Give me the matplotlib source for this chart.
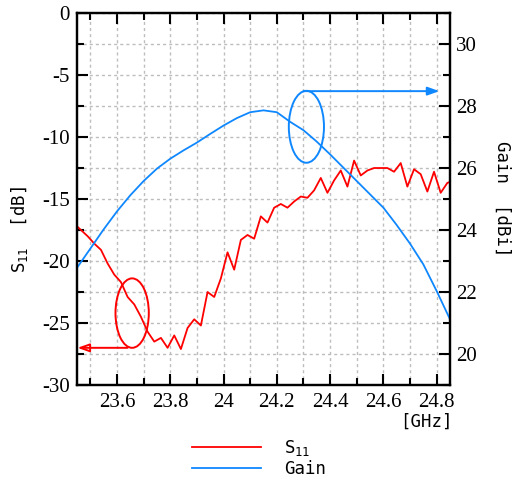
#!/usr/bin/env python3

# S11 and gain of the antenna against frequency, two y axes.

import matplotlib
matplotlib.use('Agg')
import matplotlib.pyplot as plt
from matplotlib.patches import Ellipse
from matplotlib.ticker import MultipleLocator, FormatStrFormatter
import numpy as np

# S11 measurement [GHz], [dB]
s11_freq = np.round(23.44 + 0.025 * np.arange(58), 3)
s11_db = [-17.0, -17.5, -18.0, -18.6, -19.1, -20.2, -21.1, -21.7, -22.9, -23.5,
          -24.5, -25.7, -26.5, -26.2, -27.0, -26.0, -27.1, -25.4, -24.7, -25.2,
          -22.5, -22.9, -21.4, -19.3, -20.7, -18.3, -17.9, -18.2, -16.4, -16.9,
          -15.7, -15.4, -15.7, -15.2, -14.8, -14.9, -14.3, -13.3, -14.5, -13.5,
          -12.7, -14.0, -11.9, -13.1, -12.7, -12.5, -12.5, -12.5, -12.8, -12.1,
          -14.0, -12.6, -13.0, -14.4, -12.8, -14.5, -13.7, -13.5]

# Gain [GHz], [dBi]
gain_freq = [23.45, 23.50, 23.55, 23.60, 23.65, 23.70, 23.75, 23.80, 23.85, 23.90,
             23.95, 24.00, 24.05, 24.10, 24.15, 24.20, 24.25, 24.30, 24.35, 24.40,
             24.45, 24.50, 24.55, 24.60, 24.65, 24.70, 24.75, 24.80, 24.85]
gain_dbi = [22.78, 23.40, 24.02, 24.60, 25.12, 25.58, 25.98, 26.30, 26.57, 26.82,
            27.10, 27.37, 27.61, 27.80, 27.86, 27.80, 27.49, 27.22, 26.85, 26.44,
            26.01, 25.58, 25.15, 24.72, 24.16, 23.56, 22.89, 22.03, 21.12]

RED = '#ff0000'
BLUE = '#0f87ff'
SERIF = 'Liberation Serif'
MONO = 'DejaVu Sans Mono'

plt.rcParams['mathtext.default'] = 'regular'
plt.rcParams['axes.unicode_minus'] = False
plt.rcParams['font.family'] = SERIF

fig = plt.figure(figsize=(5.15, 4.82), dpi=100)
ax = fig.add_axes([0.1495, 0.2012, 0.7243, 0.7718])
ax2 = ax.twinx()

l1, = ax.plot(s11_freq, s11_db, color=RED, lw=1.3, label='S$_{11}$')
l2, = ax2.plot(gain_freq, gain_dbi, color=BLUE, lw=1.3, label='Gain')

ax.set_xlim(23.45, 24.85)
ax.set_ylim(-30, 0)
ax2.set_ylim(19, 31)

ax.xaxis.set_major_locator(MultipleLocator(0.2))
ax.xaxis.set_minor_locator(MultipleLocator(0.1))
ax.xaxis.set_major_formatter(FormatStrFormatter('%g'))
ax.yaxis.set_major_locator(MultipleLocator(5))
ax.yaxis.set_minor_locator(MultipleLocator(2.5))
ax2.yaxis.set_major_locator(MultipleLocator(2))
ax2.yaxis.set_minor_locator(MultipleLocator(1))

ax.grid(which='both', color='#bdbdbd', linestyle=(0, (2.2, 2.2)), linewidth=1.0)
ax.set_axisbelow(True)

ax.tick_params(which='both', direction='in', top=True, right=False, width=1.5,
               labelsize=15, colors='black')
ax.tick_params(which='major', length=8)
ax.tick_params(which='minor', length=5)
ax.tick_params(axis='y', pad=5)
ax.tick_params(axis='x', pad=6)
ax2.tick_params(which='both', direction='in', width=1.5, labelsize=15, pad=4.5)
ax2.tick_params(which='major', length=8)
ax2.tick_params(which='minor', length=5)
for a in (ax, ax2):
    for sp in a.spines.values():
        sp.set_linewidth(1.6)

ax.set_ylabel('S$_{11}$  [dB]', family=MONO, fontsize=12.5, va='center')
ax.yaxis.set_label_coords(-0.153, 0.417)
ax2.set_ylabel('Gain  [dBi]', family=MONO, fontsize=12.5, rotation=270, va='center')
ax2.yaxis.set_label_coords(1.139, 0.5)
ax.set_xlabel('[GHz]', family=MONO, fontsize=12.5, ha='right', va='center')
ax.xaxis.set_label_coords(1.008, -0.0987)

# markers pointing each curve at its axis
ax.add_patch(Ellipse((23.657, -24.2), 0.125, 5.6, fill=False, ec=RED, lw=1.4))
ax.annotate('', xy=(23.452, -27.0), xytext=(23.64, -27.0),
            arrowprops=dict(arrowstyle='-|>,head_length=0.7,head_width=0.25',
                            color=RED, fc='none', lw=1.4, shrinkA=0, shrinkB=0))
ax2.add_patch(Ellipse((24.311, 27.33), 0.132, 2.32, fill=False, ec=BLUE, lw=1.4))
ax2.annotate('', xy=(24.81, 28.48), xytext=(24.30, 28.48),
             arrowprops=dict(arrowstyle='-|>,head_length=0.7,head_width=0.25',
                             color=BLUE, lw=1.4, shrinkA=0, shrinkB=0))

fig.legend([l1, l2], ['S$_{11}$', 'Gain'], loc='center left',
           bbox_to_anchor=(192.0 / 515, 1 - 458.0 / 482), frameon=False,
           prop={'family': MONO, 'size': 12.5}, handlelength=4.0,
           handletextpad=1.3, labelspacing=0.1, borderpad=0, borderaxespad=0)

fig.savefig('out.png', dpi=100)
